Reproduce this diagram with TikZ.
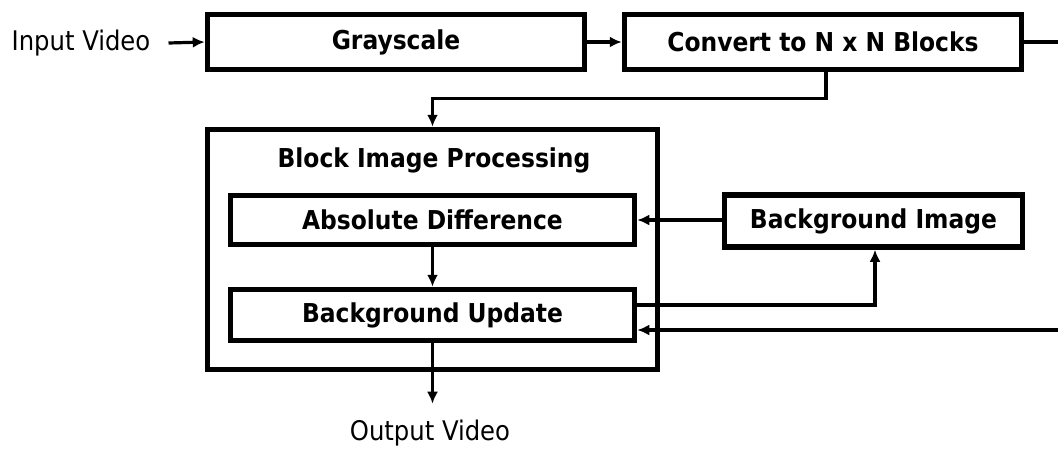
\documentclass[tikz,border=0pt]{standalone}
\usepackage{fontspec}
\setmainfont{DejaVu Sans Condensed}
\usetikzlibrary{arrows.meta,calc}
\begin{document}
\begin{tikzpicture}[x=1pt,y=-1pt,
  blk/.style={draw,line width=5.5pt,inner sep=0pt,font=\fontsize{26}{30}\selectfont\bfseries},
  lbl/.style={inner sep=0pt,font=\fontsize{27}{30}\selectfont},
  arr/.style={line width=3.2pt,-{Latex[length=12pt,width=11pt]}},
  ln/.style={line width=3.2pt}]
\useasboundingbox (0,0) rectangle (1058,448);
\node[lbl] (input) at (81,43) {Input Video};
\node[blk,minimum width=377pt,minimum height=55pt] (gray) at (396,42) {Grayscale};
\node[blk,minimum width=397pt,minimum height=55pt] (conv) at (823,42) {Convert to N x N Blocks};
\node[draw,line width=5.5pt,minimum width=450pt,minimum height=240pt,inner sep=0pt] (outer) at (432.5,249.5) {};
\node[inner sep=0pt,font=\fontsize{26}{30}\selectfont\bfseries] (title) at (434,160) {Block Image Processing};
\node[blk,minimum width=404pt,minimum height=49pt] (absdiff) at (432.5,220) {Absolute Difference};
\node[blk,minimum width=298pt,minimum height=52pt] (bgimg) at (873.5,221) {Background Image};
\node[blk,minimum width=404pt,minimum height=51pt] (bgupd) at (432.5,315) {Background Update};
\node[lbl] (output) at (430,433) {Output Video};
\coordinate (outR) at (1058,42);
\coordinate (inR) at (1058,330);
\draw[arr] (input.east) ++(18,0) -- (gray.west);
\draw[arr] (gray.east) -- (conv.west);
\draw[ln] (conv.east) -- (outR);
\draw[arr] ([xshift=3pt]conv.south) -- ++(0,26) -| (outer.north);
\draw[arr] (bgimg.west |- absdiff.east) -- (absdiff.east);
\draw[arr] (absdiff.south) -- (bgupd.north);
\draw[arr] ([yshift=10pt]bgupd.east) -| ([xshift=1.5pt]bgimg.south);
\draw[arr] (inR) -- ([yshift=-15pt]bgupd.east);
\draw[arr,shorten >=16pt] (bgupd.south) -- (bgupd.south |- output.north);
\end{tikzpicture}
\end{document}
